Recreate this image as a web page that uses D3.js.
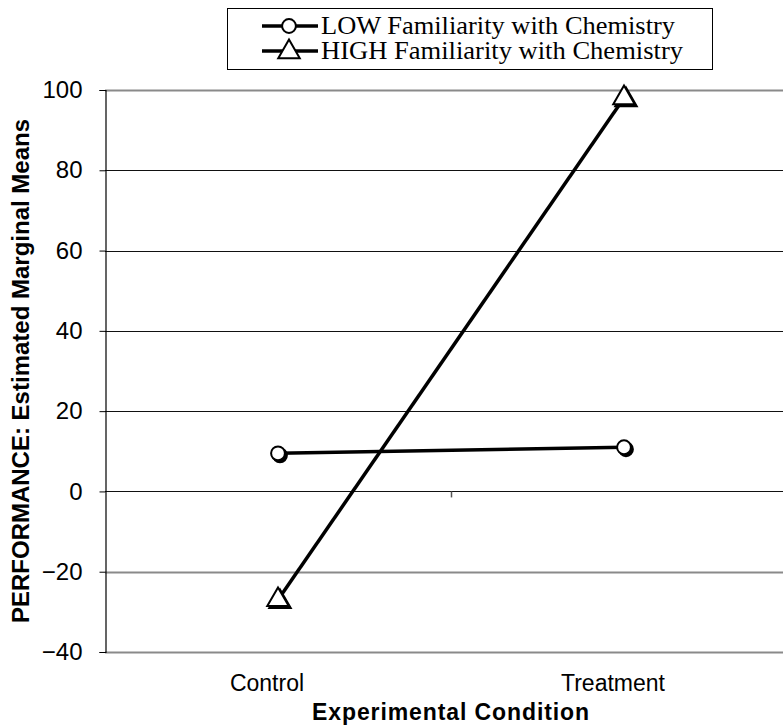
<!DOCTYPE html>
<html>
<head>
<meta charset="utf-8">
<script src="https://cdn.jsdelivr.net/npm/d3@7"></script>
<style>
  body { margin: 0; background: #fff; }
  svg { display: block; }
</style>
</head>
<body>
<div id="chart"></div>
<script>
// data
const conditions = ['Control', 'Treatment'];
const lowValues = [9.5, 11];
const highValues = [-27, 98];
const seriesNames = ['LOW Familiarity with Chemistry', 'HIGH Familiarity with Chemistry'];
const yTicks = [-40, -20, 0, 20, 40, 60, 80, 100];

const W = 783, H = 728;
const margin = { left: 105, right: -14, top: 90, bottom: 76 };
const sans = 'Arial, "Liberation Sans", sans-serif';

const svg = d3.select('#chart').append('svg')
    .attr('width', W)
    .attr('height', H);

const x = d3.scalePoint()
    .domain(conditions)
    .range([margin.left, W - margin.right])
    .padding(0.5);

const y = d3.scaleLinear()
    .domain([-40, 100])
    .range([H - margin.bottom, margin.top]);

// gridlines
const grayLines = new Set([100, -20, -40]);
svg.append('g')
    .selectAll('line')
    .data(yTicks)
    .join('line')
    .attr('x1', margin.left)
    .attr('x2', W - margin.right)
    .attr('y1', d => Math.round(y(d)) + 0.5)
    .attr('y2', d => Math.round(y(d)) + 0.5)
    .attr('stroke', d => grayLines.has(d) ? '#8a8a8a' : '#111')
    .attr('stroke-width', d => grayLines.has(d) ? 2 : 1.2);

// y axis
const yAxis = svg.append('g')
    .attr('transform', `translate(${margin.left + 0.5},0)`)
    .call(d3.axisLeft(y).tickValues(yTicks).tickSize(6).tickPadding(17));
yAxis.select('.domain').attr('stroke', '#000').attr('stroke-width', 1.2);
yAxis.selectAll('.tick line').attr('stroke', '#000');
yAxis.selectAll('.tick text')
    .attr('font-family', sans)
    .attr('font-size', 24)
    .attr('fill', '#000');

// category axis crosses at 0, tick between categories
const x0 = y(0);
svg.append('line')
    .attr('x1', (x('Control') + x('Treatment')) / 2 + 0.5)
    .attr('x2', (x('Control') + x('Treatment')) / 2 + 0.5)
    .attr('y1', x0)
    .attr('y2', x0 + 6)
    .attr('stroke', '#555')
    .attr('stroke-width', 1.5);

// category labels (sit a little left of the points, as in the original)
svg.append('g')
    .selectAll('text')
    .data(conditions)
    .join('text')
    .attr('x', d => x(d) - 11)
    .attr('y', 691)
    .attr('text-anchor', 'middle')
    .attr('font-family', sans)
    .attr('font-size', 23)
    .text(d => d);

// axis titles
svg.append('text')
    .attr('x', (x('Control') + x('Treatment')) / 2)
    .attr('y', 720)
    .attr('text-anchor', 'middle')
    .attr('font-family', sans)
    .attr('font-size', 23)
    .attr('font-weight', 'bold')
    .attr('letter-spacing', 0.9)
    .text('Experimental Condition');

svg.append('text')
    .attr('transform', `translate(29,${y(30)}) rotate(-90)`)
    .attr('text-anchor', 'middle')
    .attr('font-family', sans)
    .attr('font-size', 24)
    .attr('font-weight', 'bold')
    .text('PERFORMANCE: Estimated Marginal Means');

// series lines
const series = [
    { name: seriesNames[0], values: lowValues, shape: 'circle', textLen: 354 },
    { name: seriesNames[1], values: highValues, shape: 'triangle', textLen: 362 }
];

const line = d3.line()
    .x((d, i) => x(conditions[i]))
    .y(d => y(d));

svg.append('g')
    .selectAll('path')
    .data(series)
    .join('path')
    .attr('d', d => line(d.values))
    .attr('fill', 'none')
    .attr('stroke', '#000')
    .attr('stroke-width', 3.5);

const symCircle = d3.symbol().type(d3.symbolCircle).size(150);
const symTri = d3.symbol().type(d3.symbolTriangle).size(200);

function drawMarker(g, shape, cx, cy, shadow) {
    const path = shape === 'circle' ? symCircle() : symTri();
    if (shadow) {
        g.append('path')
            .attr('d', path)
            .attr('transform', `translate(${cx + 2},${cy + 2})`)
            .attr('fill', '#000')
            .attr('stroke', '#000')
            .attr('stroke-width', 2);
    }
    g.append('path')
        .attr('d', path)
        .attr('transform', `translate(${cx},${cy})`)
        .attr('fill', '#fff')
        .attr('stroke', '#000')
        .attr('stroke-width', 2);
}

const markers = svg.append('g');
series.forEach(s => {
    s.values.forEach((v, i) => {
        drawMarker(markers, s.shape, x(conditions[i]), y(v), true);
    });
});

// legend
const legend = svg.append('g');
legend.append('rect')
    .attr('x', 227.5)
    .attr('y', 8.5)
    .attr('width', 485)
    .attr('height', 61)
    .attr('fill', '#fff')
    .attr('stroke', '#000')
    .attr('stroke-width', 1);

series.forEach((s, i) => {
    const ly = 26 + i * 25;
    legend.append('line')
        .attr('x1', 262)
        .attr('x2', 318)
        .attr('y1', ly)
        .attr('y2', ly)
        .attr('stroke', '#000')
        .attr('stroke-width', 3.5);
    drawMarker(legend, s.shape, 289, ly + (s.shape === 'triangle' ? 1 : 0), false);
    legend.append('text')
        .attr('x', 321)
        .attr('y', ly + 8)
        .attr('font-family', '"Times New Roman", "Liberation Serif", serif')
        .attr('font-size', 25)
        .attr('textLength', s.textLen)
        .attr('lengthAdjust', 'spacingAndGlyphs')
        .text(s.name);
});
</script>
</body>
</html>
